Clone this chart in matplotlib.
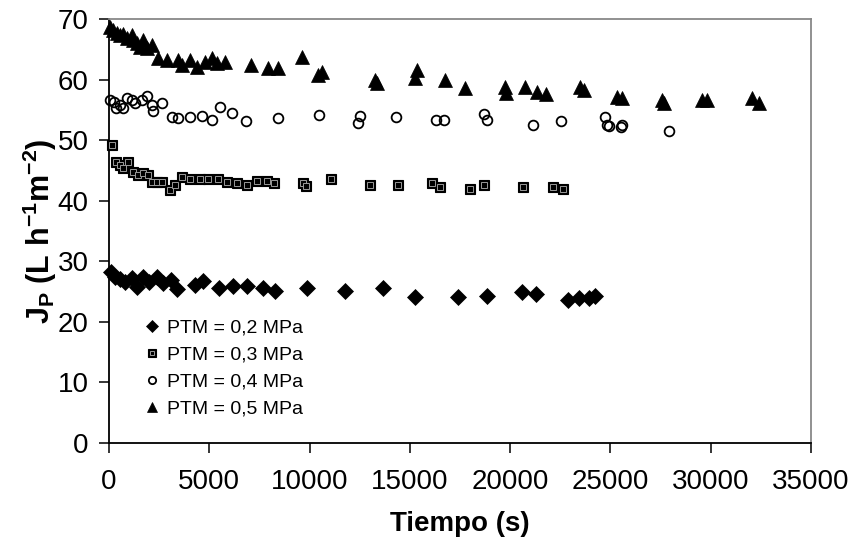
import matplotlib
matplotlib.use("Agg")
import matplotlib.pyplot as plt

plt.rcParams['font.family'] = ['Liberation Sans', 'DejaVu Sans']
plt.rcParams['mathtext.fontset'] = 'custom'
plt.rcParams['mathtext.rm'] = 'Liberation Sans'
plt.rcParams['mathtext.bf'] = 'Liberation Sans:bold'
plt.rcParams['mathtext.it'] = 'Liberation Sans:italic'

# PTM = 0,2 MPa
t02 = [100, 300, 550, 800, 1150, 1390, 1690, 1990, 2390, 2690, 3090, 3390, 4280, 4680,
       5480, 6180, 6870, 7670, 8270, 9860, 11750, 13650, 15240, 17380, 18870, 20570,
       21310, 22860, 23410, 23950, 24250]
j02 = [28.2, 27.4, 27.1, 26.6, 27.2, 25.8, 27.4, 26.6, 27.4, 26.4, 26.9, 25.4, 26.1, 26.7,
       25.6, 25.9, 25.9, 25.6, 25.1, 25.6, 25.1, 25.6, 24.1, 24.1, 24.3, 24.9,
       24.6, 23.6, 23.9, 23.9, 24.3]

# PTM = 0,3 MPa
t03 = [150, 350, 550, 700, 950, 1200, 1440, 1690, 1940, 2140, 2390, 2640, 3040, 3290,
       3640, 4030, 4530, 4930, 5430, 5880, 6370, 6870, 7370, 7870, 8220, 9660, 9810,
       11060, 13000, 14390, 16080, 16480, 17980, 18680, 20620, 22160, 22660]
j03 = [49.2, 46.4, 45.9, 45.4, 46.4, 44.7, 44.2, 44.6, 44.2, 43.1, 43.1, 43.1, 41.8, 42.6,
       43.9, 43.6, 43.6, 43.6, 43.6, 43.1, 42.9, 42.6, 43.3, 43.3, 42.9, 42.9, 42.4,
       43.6, 42.6, 42.6, 42.9, 42.3, 41.9, 42.6, 42.3, 42.3, 41.9]

# PTM = 0,4 MPa
t04 = [50, 250, 350, 550, 700, 900, 1150, 1290, 1640, 1890, 2140, 2190, 2640, 3140,
       3440, 4030, 4630, 5130, 5530, 6130, 6820, 8420, 10460, 12400, 12500, 14290,
       16280, 16680, 18720, 18870, 21120, 22560, 24750, 24850, 24950, 25550, 25600, 27940]
j04 = [56.6, 56.3, 55.3, 55.8, 55.3, 57.0, 56.6, 56.1, 56.6, 57.3, 55.8, 54.8, 56.1, 53.8,
       53.7, 53.8, 54.0, 53.3, 55.5, 54.5, 53.2, 53.7, 54.2, 52.8, 54.0, 53.8,
       53.3, 53.3, 54.3, 53.3, 52.5, 53.2, 53.8, 52.5, 52.3, 52.2, 52.5, 51.5]

# PTM = 0,5 MPa
t05 = [50, 200, 400, 550, 700, 900, 1150, 1200, 1390, 1540, 1690, 1890, 2140, 2440,
       2890, 3440, 3640, 4030, 4380, 4780, 5130, 5380, 5780, 7070, 7920, 8420, 9610,
       10410, 10610, 13250, 13350, 15240, 15340, 16730, 17730, 19720, 19770, 20720,
       21360, 21810, 23460, 23700, 25350, 25600, 27590, 27690, 29580, 29830, 32070, 32420]
j05 = [68.7, 68.2, 67.7, 67.4, 67.5, 66.9, 67.4, 66.5, 66.0, 65.4, 66.5, 65.2, 65.7, 63.6,
       63.2, 63.2, 62.4, 63.2, 62.1, 62.9, 63.6, 62.7, 62.9, 62.4, 61.9, 61.9, 63.7,
       60.8, 61.3, 59.9, 59.4, 60.3, 61.6, 59.9, 58.6, 58.8, 57.8, 58.8,
       57.9, 57.6, 58.8, 58.3, 57.1, 57.0, 56.6, 56.1, 56.6, 56.6, 57.0, 56.1]

labels = ['PTM = 0,2 MPa', 'PTM = 0,3 MPa', 'PTM = 0,4 MPa', 'PTM = 0,5 MPa']
xticks = [0, 5000, 10000, 15000, 20000, 25000, 30000, 35000]
yticks = [0, 10, 20, 30, 40, 50, 60, 70]

fig = plt.figure(figsize=(8.55, 5.48), dpi=100)
ax = fig.add_axes([109/855, 1-443/548, (811-109)/855, (443-19)/548])

h1, = ax.plot(t02, j02, linestyle='none', marker='D', ms=8, mfc='black', mec='black', mew=0.5,
              clip_on=False, zorder=3)
h2a, = ax.plot(t03, j03, linestyle='none', marker='s', ms=7.5, mfc='black', mec='black', mew=0.8,
               clip_on=False, zorder=3)
h2b, = ax.plot(t03, j03, linestyle='none', marker='s', ms=4.5, mfc='black', mec='#9a9a9a', mew=0.7,
               clip_on=False, zorder=3.1)
h3, = ax.plot(t04, j04, linestyle='none', marker='o', ms=7, mfc='none', mec='black', mew=1.3,
              clip_on=False, zorder=3)
h4, = ax.plot(t05, j05, linestyle='none', marker='^', ms=9.5, mfc='black', mec='black', mew=0.5,
              clip_on=False, zorder=3)

ax.set_xlim(0, 35000)
ax.set_ylim(0, 70)
ax.set_xticks(xticks)
ax.set_xticklabels([str(v) for v in xticks])
ax.set_yticks(yticks)
ax.set_yticklabels([str(v) for v in yticks])

for s in ['left', 'bottom']:
    ax.spines[s].set_color('black')
    ax.spines[s].set_linewidth(1.3)
for s in ['top', 'right']:
    ax.spines[s].set_color('#888888')
    ax.spines[s].set_linewidth(1.3)

ax.tick_params(axis='both', direction='out', length=7.5, width=1.1, labelsize=20, color='black')
ax.tick_params(axis='x', pad=11.5)
ax.tick_params(axis='y', pad=7)

ax.set_xlabel('Tiempo (s)', fontsize=20, fontweight='bold', labelpad=11)
ax.set_ylabel(r'$\mathbf{J_P\ (L\ h^{-1}m^{-2})}$', fontsize=22, labelpad=-1)

leg = ax.legend([h1, (h2a, h2b), h3, h4], labels,
                loc='upper left', bbox_to_anchor=(0.041, 0.31), frameon=False, fontsize=14,
                handlelength=0.7, handletextpad=0.4, labelspacing=0.48, borderaxespad=0,
                markerscale=0.75)

fig.savefig('out.png', dpi=100)
